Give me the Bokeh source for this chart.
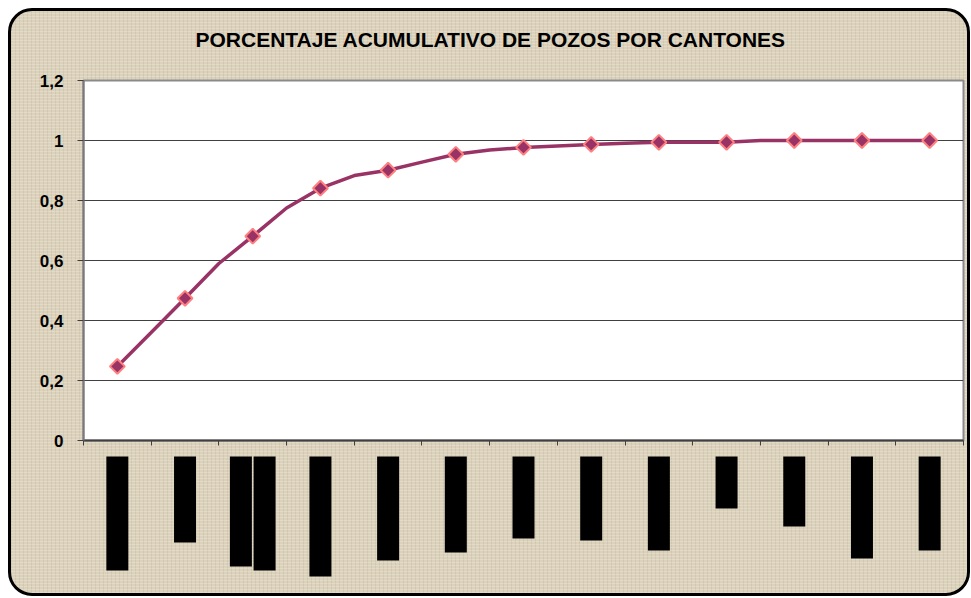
import numpy as np
from bokeh.plotting import figure
from bokeh.layouts import column
from bokeh.models import Range1d, FixedTicker, CustomJSTickFormatter
from bokeh.embed import file_html
from bokeh.resources import INLINE

# ---- data ----
cantones = ["C1", "C2", "C3", "C4", "C5", "C6", "C7", "C8", "C9", "C10", "C11", "C12", "C13"]
acumulado = [0.247, 0.474, 0.681, 0.841, 0.901, 0.954, 0.977, 0.987, 0.994, 0.994, 1.0, 1.0, 1.0]
# values of the line at the boundaries between consecutive cantones
acumulado_limites = [0.36, 0.59, 0.775, 0.883, 0.928, 0.968, 0.982, 0.991, 0.994, 1.0, 1.0, 1.0]
# hidden (blacked-out) category labels: length of each label line
etiquetas_largo = [[114], [86], [110, 114], [120], [104], [96], [82], [84], [94], [52], [70], [102], [94]]
y_ticks = [0, 0.2, 0.4, 0.6, 0.8, 1.0, 1.2]
titulo = "PORCENTAJE ACUMULATIVO DE POZOS POR CANTONES"

n = len(cantones)
xc = [i + 0.5 for i in range(n)]
line_x, line_y = [], []
for i in range(n):
    line_x.append(xc[i]); line_y.append(acumulado[i])
    if i < n - 1:
        line_x.append(i + 1); line_y.append(acumulado_limites[i])

W = 956
x_range = Range1d(0, n)

# --- title strip ---
t = figure(width=W, height=62, x_range=x_range, y_range=Range1d(0, 1),
           output_backend="svg", toolbar_location=None,
           x_axis_type=None, y_axis_type=None,
           min_border_left=0, min_border_right=0, min_border_top=0, min_border_bottom=0,
           background_fill_alpha=0, border_fill_alpha=0, outline_line_color=None)
t.grid.visible = False
t.title.text = titulo
t.title.align = "left"
t.title.offset = 112
t.title.text_font = "Liberation Sans"
t.title.text_font_size = "21px"
t.title.text_font_style = "bold"
t.title.text_color = "black"
t.title.standoff = 28

# --- main chart ---
p = figure(width=W, height=379, x_range=x_range, y_range=Range1d(0, 1.2),
           output_backend="svg", toolbar_location=None,
           min_border_left=72, min_border_right=4, min_border_top=7, min_border_bottom=12,
           background_fill_color="white", border_fill_alpha=0)

p.outline_line_color = "#8a8a8a"
p.outline_line_width = 2

p.xgrid.visible = False
p.ygrid.ticker = FixedTicker(ticks=y_ticks)
p.ygrid.grid_line_color = "#404040"
p.ygrid.grid_line_width = 1

p.yaxis.ticker = FixedTicker(ticks=y_ticks)
p.yaxis.formatter = CustomJSTickFormatter(code="""
var s = tick.toFixed(1).replace('.', ',');
if (s.endsWith(',0')) s = s.slice(0, -2);
return s;""")
p.yaxis.major_label_text_font = "Liberation Sans"
p.yaxis.major_label_text_font_size = "17px"
p.yaxis.major_label_text_font_style = "bold"
p.yaxis.major_label_text_color = "black"
p.yaxis.axis_line_color = "#7a7a7a"
p.yaxis.axis_line_width = 2
p.yaxis.major_tick_line_color = "#404040"
p.yaxis.major_tick_out = 6
p.yaxis.major_tick_in = 0
p.yaxis.minor_tick_line_color = None
p.yaxis.major_label_standoff = 14

p.xaxis.ticker = FixedTicker(ticks=list(range(n + 1)))
p.xaxis.formatter = CustomJSTickFormatter(code="return '';")
p.xaxis.major_label_standoff = 0
p.xaxis.axis_line_color = "#404040"
p.xaxis.axis_line_width = 2
p.xaxis.major_tick_line_color = "#404040"
p.xaxis.major_tick_out = 5
p.xaxis.major_tick_in = 0
p.xaxis.minor_tick_line_color = None

p.line(line_x, line_y, line_color="#993366", line_width=3.5)
p.scatter(xc, acumulado, marker="square", angle=np.pi / 4, size=10.5,
          fill_color="#993366", line_color="#ff8080", line_width=2)

# blacked-out category labels
bx, btop, bbot = [], [], []
for i, lens in enumerate(etiquetas_largo):
    k = len(lens)
    for j, L in enumerate(lens):
        off = (j - (k - 1) / 2) * 0.35
        bx.append(xc[i] + off); btop.append(0); bbot.append(-L)

q = figure(width=W, height=141, x_range=x_range, y_range=Range1d(-137, 4),
           output_backend="svg", toolbar_location=None,
           min_border_left=72, min_border_right=4, min_border_top=0, min_border_bottom=0,
           background_fill_alpha=0, border_fill_alpha=0, outline_line_color=None)
q.axis.visible = False
q.grid.visible = False
q.vbar(x=bx, top=btop, bottom=bbot, width=0.325, fill_color="black", line_color=None)

layout = column(t, p, q, spacing=0, styles={
    "margin-left": "8px",
    "margin-top": "8px",
    "background-color": "#dcd2bb",
    "background-image": "repeating-linear-gradient(0deg, rgba(255,255,255,0.20) 0px, rgba(255,255,255,0.20) 1px, transparent 1px, transparent 3px), repeating-linear-gradient(90deg, rgba(110,90,60,0.10) 0px, rgba(110,90,60,0.10) 1px, transparent 1px, transparent 4px)",
    "border": "3px solid black",
    "border-radius": "24px",
})

open("out.html", "w").write(file_html(layout, INLINE))
